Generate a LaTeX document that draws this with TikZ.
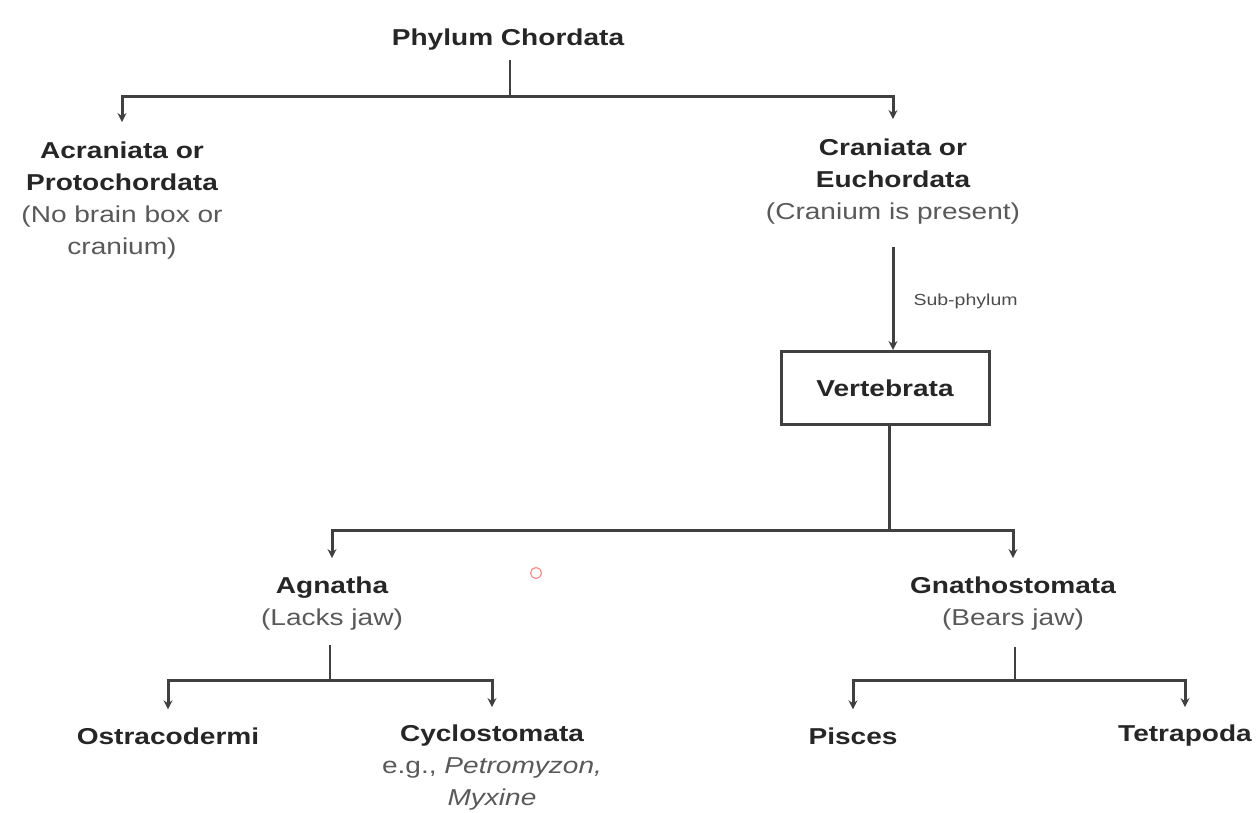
\documentclass[tikz,border=0pt]{standalone}
\usepackage{fontspec}
\setmainfont[FakeStretch=1.22]{Liberation Sans}
\usetikzlibrary{arrows.meta}
\begin{document}
\begin{tikzpicture}[x=1pt,y=-1pt,
  ln/.style={line width=3pt, draw=black!75},
  stub/.style={line width=2pt, draw=black!75},
  arr/.style={ln, -{Stealth[length=9pt,width=9pt]}},
  lbl/.style={align=center, inner xsep=0pt, inner ysep=4pt, font=\fontsize{23}{32}\selectfont\bfseries, text=black!85},
  boxn/.style={draw=black!75, line width=3pt, minimum width=208pt, minimum height=73pt, font=\fontsize{23}{31}\selectfont\bfseries, text=black!85},
  sublbl/.style={font=\fontsize{16}{20}\selectfont, text=black!70, inner sep=0pt}
]
\useasboundingbox (0,0) rectangle (1259,813);
\newcommand{\rg}[1]{{\mdseries\color{black!65}#1}}

\node[lbl] (phy) at (508,40) {Phylum Chordata};
\node[lbl] (acr) at (122,201) {Acraniata or\\Protochordata\\\rg{(No brain box or}\\\rg{cranium)}};
\node[lbl] (cran) at (893,182) {Craniata or\\Euchordata\\\rg{(Cranium is present)}};
\node[boxn] (vert) at (885,388) {Vertebrata};
\node[lbl] (agn) at (332,604) {Agnatha\\\rg{(Lacks jaw)}};
\node[lbl] (gna) at (1013,604) {Gnathostomata\\\rg{(Bears jaw)}};
\node[lbl] (ost) at (168,736) {Ostracodermi};
\node[lbl] (cyc) at (492,768) {Cyclostomata\\\rg{e.g., \itshape Petromyzon,}\\\rg{\itshape Myxine}};
\node[lbl] (pis) at (853,736) {Pisces};
\node[lbl] (tet) at (1185,736) {Tetrapoda};

\coordinate (j1) at (510,97);
\coordinate (j2) at (889,530);
\coordinate (j3) at (330,680);
\coordinate (j4) at (1015,680);

\draw[stub, shorten <=5pt] (phy.south -| j1) -- (j1);
\draw[arr, shorten >=16pt] (j1) -| (acr.north);
\draw[arr, shorten >=16pt] (j1) -| (cran.north);
\draw[arr, shorten <=18pt] (cran.south) -- node[pos=0.6, right=19pt, sublbl] {Sub-phylum} (cran.south |- vert.north);
\draw[ln] (vert.south -| j2) -- (j2);
\draw[arr, shorten >=15pt] (j2) -| (agn.north);
\draw[arr, shorten >=15pt] (j2) -| (gna.north);
\draw[stub, shorten <=10pt] (agn.south -| j3) -- (j3);
\draw[arr, shorten >=14pt] (j3) -| (ost.north);
\draw[arr, shorten >=14pt] (j3) -| (cyc.north);
\draw[stub, shorten <=12pt] (gna.south -| j4) -- (j4);
\draw[arr, shorten >=14pt] (j4) -| (pis.north);
\draw[arr, shorten >=14pt] (j4) -| (tet.north);

\draw[red!45, line width=1.2pt] (536,573) circle (5.5);
\end{tikzpicture}
\end{document}
